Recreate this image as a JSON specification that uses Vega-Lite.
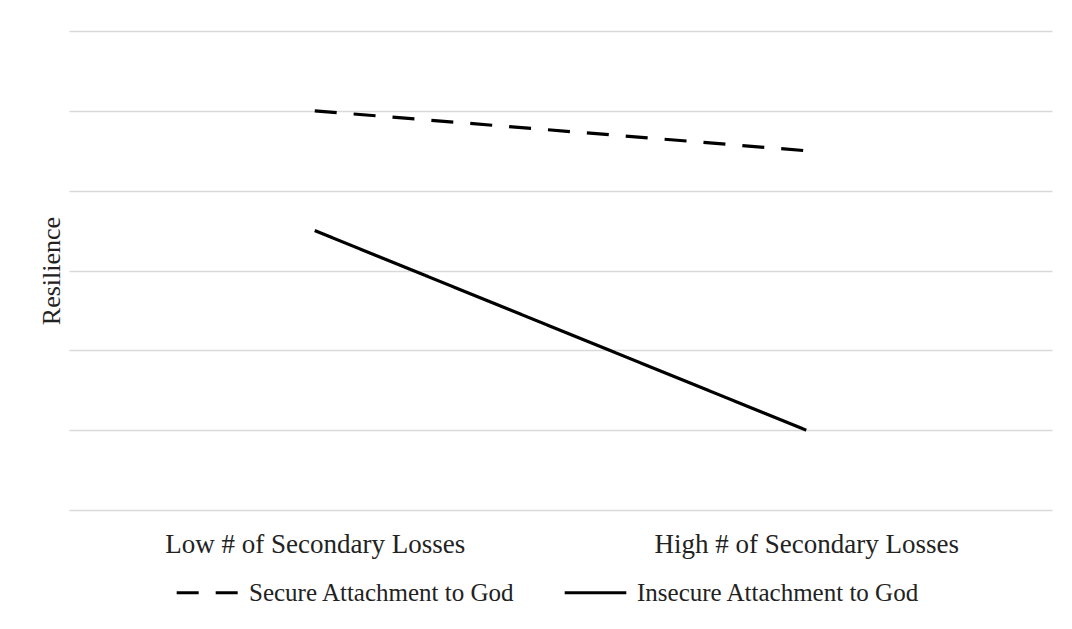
{
  "$schema": "https://vega.github.io/schema/vega-lite/v6.json",
  "width": 983,
  "height": 479,
  "autosize": {"type": "none"},
  "padding": {"left": 69, "top": 31, "right": 20, "bottom": 119},
  "background": "white",
  "config": {
    "font": "Liberation Serif",
    "view": {"stroke": null}
  },
  "data": {
    "values": [
      {"losses": "Low # of Secondary Losses", "group": "Secure Attachment to God", "resilience": 5.0},
      {"losses": "High # of Secondary Losses", "group": "Secure Attachment to God", "resilience": 4.5},
      {"losses": "Low # of Secondary Losses", "group": "Insecure Attachment to God", "resilience": 3.5},
      {"losses": "High # of Secondary Losses", "group": "Insecure Attachment to God", "resilience": 1.0}
    ]
  },
  "mark": {"type": "line", "color": "black", "strokeWidth": 3.2},
  "encoding": {
    "x": {
      "field": "losses",
      "type": "nominal",
      "sort": ["Low # of Secondary Losses", "High # of Secondary Losses"],
      "scale": {"type": "point", "padding": 0.5},
      "axis": {"title": null, "labelAngle": 0, "domain": false, "ticks": false, "grid": false, "labelLimit": 0,
               "labelFont": "Liberation Serif", "labelFontSize": 27, "labelColor": "#222", "labelPadding": 21}
    },
    "y": {
      "field": "resilience",
      "type": "quantitative",
      "scale": {"domain": [0, 6], "nice": false},
      "axis": {"title": "Resilience", "labels": false, "ticks": false, "domain": false,
               "values": [0, 1, 2, 3, 4, 5, 6], "grid": true, "gridColor": "#d9d9d9", "gridWidth": 1.5,
               "titleFont": "Liberation Serif", "titleFontSize": 26, "titleFontWeight": "normal", "titleColor": "#222", "titlePadding": 5}
    },
    "strokeDash": {
      "field": "group",
      "type": "nominal",
      "scale": {"domain": ["Secure Attachment to God", "Insecure Attachment to God"], "range": [[22, 17], [1, 0]]},
      "legend": {
        "title": null, "orient": "none", "direction": "horizontal", "legendX": 106, "legendY": 529,
        "symbolType": "stroke", "symbolSize": 3800, "symbolStrokeWidth": 3.2, "symbolStrokeColor": "black",
        "labelFont": "Liberation Serif", "labelFontSize": 25, "labelColor": "#222", "labelOffset": 9, "labelLimit": 0, "columnPadding": 43
      }
    }
  }
}
